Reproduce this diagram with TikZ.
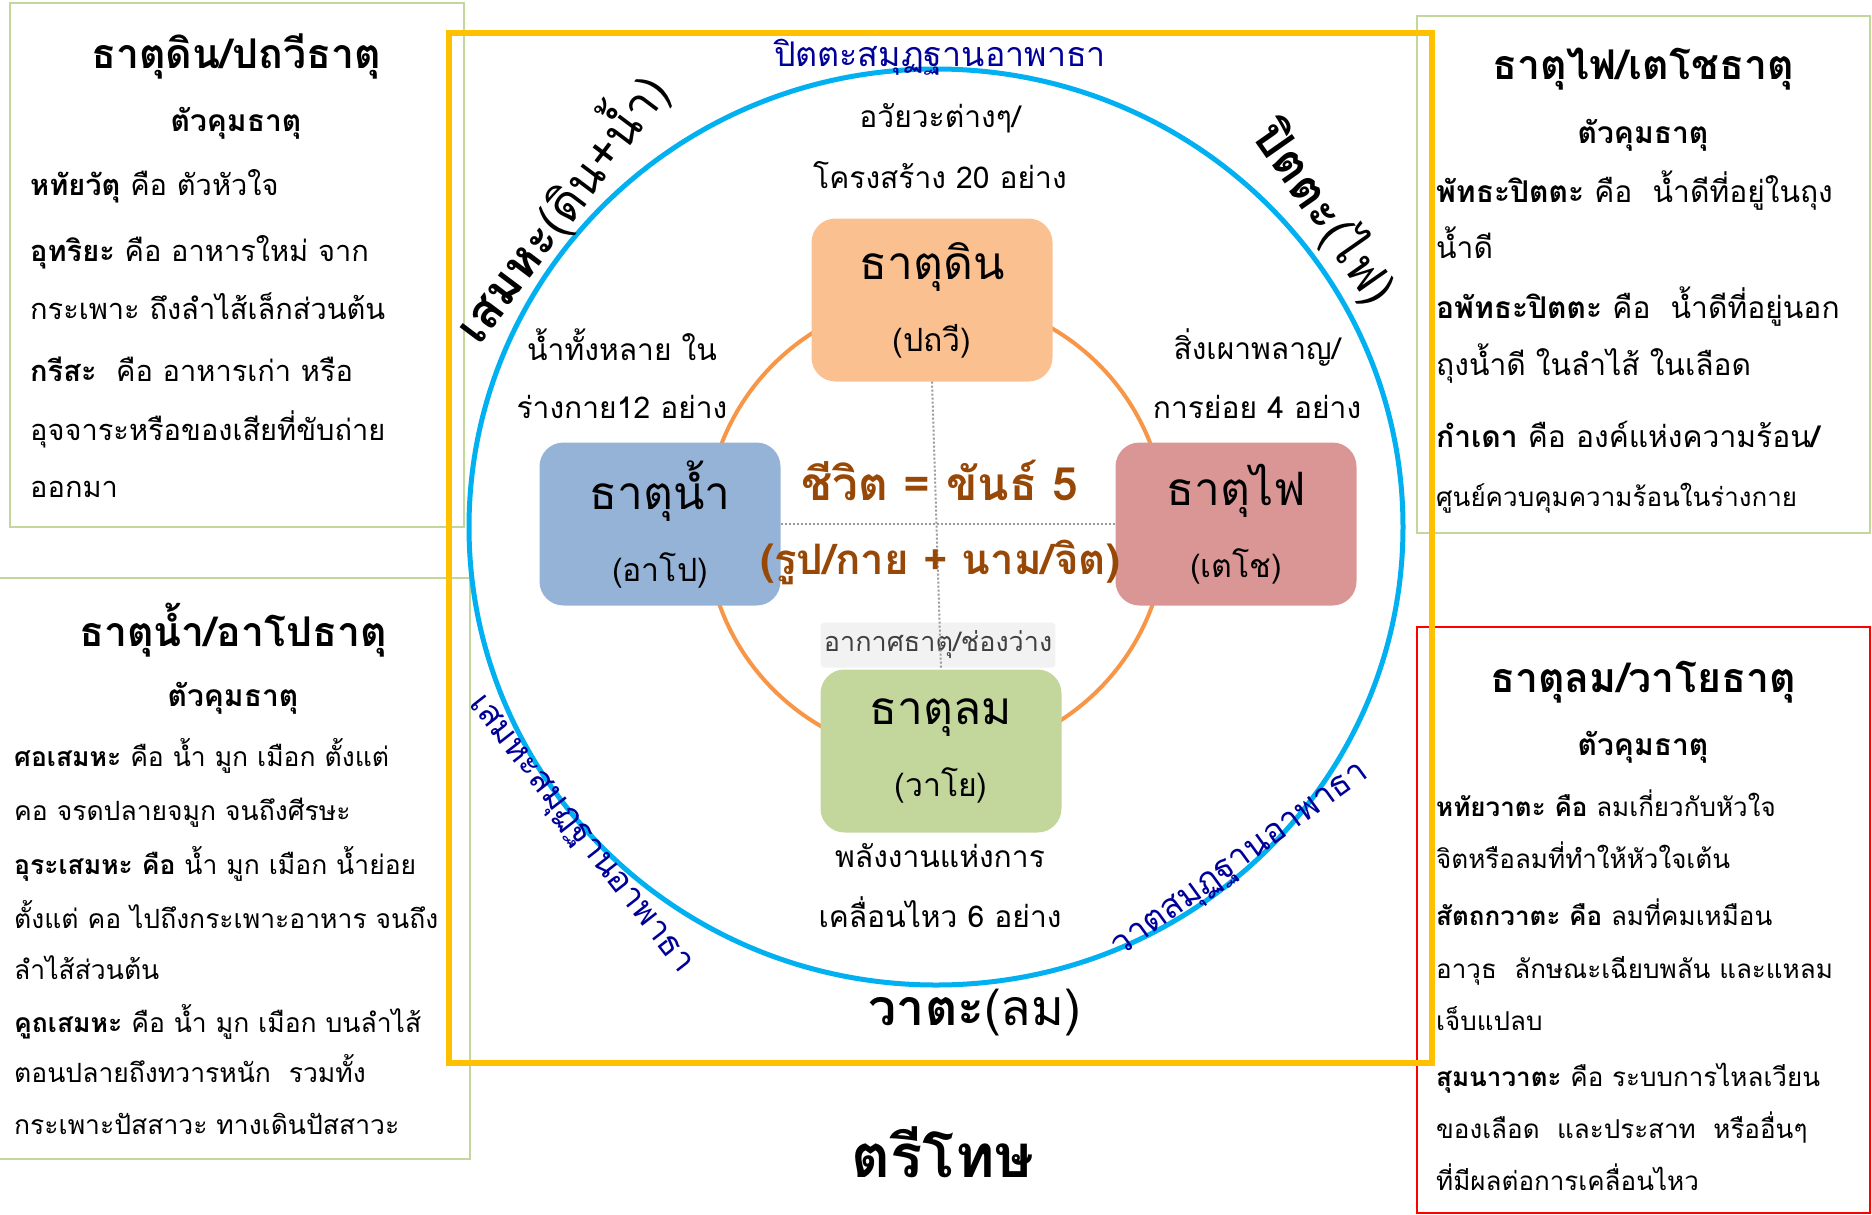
\documentclass[tikz,border=0pt]{standalone}
\usepackage{fontspec}
\setmainfont{Loma}[Script=Thai]
\usepackage{xcolor}
\definecolor{Amber}{HTML}{FFC000}
\definecolor{Sky Blue}{HTML}{00B0F0}
\definecolor{Tangerine}{HTML}{F79646}
\definecolor{Sage}{HTML}{C3D69B}
\definecolor{Peach}{HTML}{FAC090}
\definecolor{Steel}{HTML}{95B3D7}
\definecolor{Dusty Rose}{HTML}{D99694}
\definecolor{Mist}{HTML}{F2F2F2}
\definecolor{Rust}{HTML}{984806}
\definecolor{Deep Navy}{HTML}{000099}
\colorlet{cFrame}{Amber}
\colorlet{cRing}{Sky Blue}
\colorlet{cCore}{Tangerine}
\colorlet{cPanel}{Sage}
\colorlet{cEarth}{Peach}
\colorlet{cWater}{Steel}
\colorlet{cFire}{Dusty Rose}
\colorlet{cWind}{Sage}
\colorlet{cLife}{Rust}
\colorlet{cArc}{Deep Navy}
\usepackage{tikz}
\usetikzlibrary{positioning}
\newcommand{\fsz}[1]{\fontsize{#1}{#1}\selectfont}
\tikzset{
	line width = 1.5pt,
	element/.style={
		rounded corners=24pt,
		minimum width=241pt,
		minimum height=163pt,
		align=center,
		font=\fontsize{32}{72}\selectfont
	},
	panel/.style={draw=cPanel, line width=2pt},
	head/.style={font=\fsz{41}\bfseries},
	subhead/.style={font=\fsz{30}\bfseries},
	body/.style={anchor=base west, inner sep=0pt},
	note/.style={font=\fsz{30}, align=center},
	arclabel/.style={font=\fsz{34}, text=cArc},
	dosha/.style={font=\fsz{48}\bfseries},
	gap/.style={draw=gray!80, dotted, line width=2pt}
}

\begin{document}
\begin{tikzpicture}[x=1pt, y=-1pt]
	\useasboundingbox (0,0) rectangle (1872,1215);

	\draw[panel] (10,3) rectangle (464,527);
	\draw[panel] (-2,578) rectangle (470,1159);
	\draw[panel] (1417,16) rectangle (1870,533);
	\draw[draw=red, line width=2pt] (1417,627) rectangle (1870,1213);
	\draw[draw=cFrame, line width=6pt] (449,33) rectangle (1432,1063);

	\coordinate (hub) at (936,527);
	\draw[cRing, line width=5pt] (hub) ellipse [x radius=467, y radius=458];
	\draw[cCore, line width=4pt] (hub) circle [radius=230];

	\node[element, fill=cEarth] (din) at (932,300) {{\fsz{46}ธาตุดิน}\\(ปถวี)};
	\node[element, fill=cWater] (nam) at (660,524) {{\fsz{46}ธาตุน้ำ}\\(อาโป)};
	\node[element, fill=cFire] (fai) at (1236,524) {{\fsz{46}ธาตุไฟ}\\(เตโช)};
	\node[element, fill=cWind] (lom) at (941,751) {{\fsz{46}ธาตุลม}\\(วาโย)};
	\node[fill=Mist, rounded corners=4pt, minimum width=223pt, minimum height=45pt,
		font=\fsz{27}, text=black!75] (akas) at (938,645) {อากาศธาตุ/ช่องว่าง};

	\draw[gap] (din.south) -- (lom.north);
	\draw[gap] (nam.east) -- (fai.west);

	\node[font=\fsz{46}\bfseries, text=cLife] (life) at (940,480) {ชีวิต = ขันธ์ 5};
	\node[font=\fsz{42}\bfseries, text=cLife] (form) at (940,562) {(รูป/กาย + นาม/จิต)};

	\node[note] (organs) at (940,146) {อวัยวะต่างๆ/\\[28pt]โครงสร้าง 20 อย่าง};
	\node[note] (fluids) at (622,374) {น้ำทั้งหลาย ใน\\[28pt]ร่างกาย12 อย่าง};
	\node[note] (burns) at (1257,374) {สิ่งเผาพลาญ/\\[28pt]การย่อย 4 อย่าง};
	\node[note] (moves) at (940,886) {พลังงานแห่งการ\\[28pt]เคลื่อนไหว 6 อย่าง};

	\node[arclabel] (pittaarc) at (940,57) {ปิตตะสมุฏฐานอาพาธา};
	\node[arclabel, rotate=-52] (kaphaarc) at (579,836) {เสมหะสมุฏฐานอาพาธา};
	\node[arclabel, rotate=36] (vataarc) at (1242,862) {วาตสมุฏฐานอาพาธา};

	\node[dosha, rotate=53] (kapha) at (559,207) {เสมหะ{\mdseries(ดิน+น้ำ)}};
	\node[dosha, rotate=-55] (pitta) at (1325,213) {ปิตตะ{\mdseries(ไฟ)}};
	\node[dosha, font=\fsz{50}\bfseries] (vata) at (975,1013) {วาตะ{\mdseries(ลม)}};
	\node[font=\fsz{60}\bfseries] (tridosha) at (943,1152) {ตรีโทษ};

	\node[head] (earthhead) at (236,56) {ธาตุดิน/ปถวีธาตุ};
	\node[subhead] (earthsub) at (236,123) {ตัวคุมธาตุ};
	\foreach \y/\t in {185/{\textbf{หทัยวัตุ} คือ ตัวหัวใจ},
		251/{\textbf{อุทริยะ} คือ อาหารใหม่ จาก},
		309/{กระเพาะ ถึงลำไส้เล็กส่วนต้น},
		371/{\textbf{กรีสะ}\ \ คือ อาหารเก่า หรือ},
		430/{อุจจาระหรือของเสียที่ขับถ่าย},
		487/{ออกมา}}
		\node[body, font=\fsz{29}] at (30,\y+10) {\t};

	\node[head] (waterhead) at (233,630) {ธาตุน้ำ/อาโปธาตุ};
	\node[subhead] (watersub) at (233,698) {ตัวคุมธาตุ};
	\foreach \y/\t in {756/{\textbf{ศอเสมหะ} คือ น้ำ มูก เมือก ตั้งแต่},
		810/{คอ จรดปลายจมูก จนถึงศีรษะ},
		864/{\textbf{อุระเสมหะ คือ} น้ำ มูก เมือก น้ำย่อย},
		918/{ตั้งแต่ คอ ไปถึงกระเพาะอาหาร จนถึง},
		969/{ลำไส้ส่วนต้น},
		1022/{\textbf{คูถเสมหะ} คือ น้ำ มูก เมือก บนลำไส้},
		1072/{ตอนปลายถึงทวารหนัก\ \ รวมทั้ง},
		1124/{กระเพาะปัสสาวะ ทางเดินปัสสาวะ}}
		\node[body, font=\fsz{26.5}] at (14,\y+10) {\t};

	\node[head] (firehead) at (1643,69) {ธาตุไฟ/เตโชธาตุ};
	\node[subhead] (firesub) at (1643,135) {ตัวคุมธาตุ};
	\foreach \y/\t in {192/{\textbf{พัทธะปิตตะ} คือ\ \ น้ำดีที่อยู่ในถุง},
		248/{น้ำดี},
		308/{\textbf{อพัทธะปิตตะ} คือ\ \ น้ำดีที่อยู่นอก},
		365/{ถุงน้ำดี ในลำไส้ ในเลือด},
		437/{\textbf{กำเดา} คือ องค์แห่งความร้อน\textbf{/}},
		496/{\fsz{26}ศูนย์ควบคุมความร้อนในร่างกาย}}
		\node[body, font=\fsz{30}] at (1436,\y+10) {\t};

	\node[head] (windhead) at (1643,682) {ธาตุลม/วาโยธาตุ};
	\node[subhead] (windsub) at (1643,747) {ตัวคุมธาตุ};
	\foreach \y/\t in {806/{\textbf{หทัยวาตะ คือ} ลมเกี่ยวกับหัวใจ},
		858/{จิตหรือลมที่ทำให้หัวใจเต้น},
		915/{\textbf{สัตถกวาตะ คือ} ลมที่คมเหมือน},
		968/{อาวุธ\ \ ลักษณะเฉียบพลัน และแหลม},
		1020/{เจ็บแปลบ},
		1076/{\textbf{สุมนาวาตะ} คือ ระบบการไหลเวียน},
		1128/{ของเลือด\ \ และประสาท\ \ หรืออื่นๆ},
		1180/{ที่มีผลต่อการเคลื่อนไหว}}
		\node[body, font=\fsz{26}] at (1436,\y+10) {\t};
\end{tikzpicture}
\end{document}
